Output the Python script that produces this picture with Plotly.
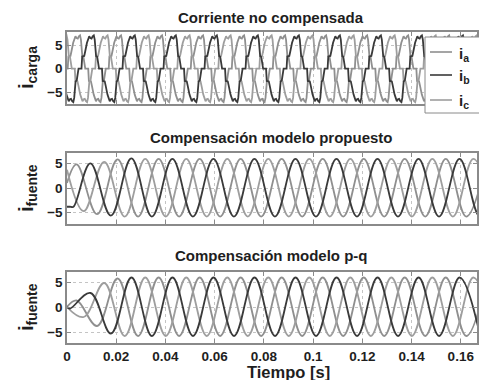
import plotly.graph_objects as go

# ---------------- data ----------------
PERIOD = 1 / 60          # s, 60 Hz supply
T_END = 0.1666           # s, right edge of the time axis

x_tick_vals = [0, 0.02, 0.04, 0.06, 0.08, 0.10, 0.12, 0.14, 0.16]
x_tick_text = ["0", "0.02", "0.04", "0.06", "0.08", "0.1", "0.12", "0.14", "0.16"]
y_tick_vals = [-5, 0, 5]
y_tick_text = ["\u22125", "0", "5"]

panel_titles = ["Corriente no compensada", "Compensación modelo propuesto", "Compensación modelo p-q"]
y_titles = ["i<sub>carga</sub>", "i<sub>fuente</sub>", "i<sub>fuente</sub>"]
x_title = "Tiempo [s]"
phase_names = ["i<sub>a</sub>", "i<sub>b</sub>", "i<sub>c</sub>"]
phase_colors = ["#8f8f8f", "#3a3a3a", "#9e9e9e"]

# centre of the first positive half-wave of each phase (s)
phase_first_peak = [0.0039, 0.0095, 0.0151]

# load current: positive half-wave of one period (electrical degrees, A); negative half mirrors it
load_half_deg = [0, 12, 18, 36, 44, 52, 60, 70, 80, 90, 100, 110, 120, 128, 134, 140, 150, 158, 166, 180]
load_half_val = [0, 0, 2.6, 2.7, 3.6, 4.8, 5.5, 6.2, 6.9, 6.5, 6.4, 6.9, 7.1, 6.2, 4.0, 2.7, 2.5, 1.0, 0, 0]

# source current, proposed model: initial samples (s, A), time of first extremum (s), successive extrema (A)
prop_start_t = [[0.0], [0.0, 0.0012, 0.0026], [0.0]]
prop_start_v = [[1.0], [-3.8, -3.8, -3.8], [3.7]]
prop_first_ext_t = [0.0039, 0.0095, 0.0068]
prop_ext = [
    [4.8, -5.3, 5.8, -5.8, 5.9, -5.8, 5.9, -5.8, 5.9, -5.8, 5.9, -5.8, 5.9, -5.8, 5.9, -5.8, 5.9, -5.8, 5.9, -5.8, 5.9],
    [5.0, -5.6, 6.0, -5.8, 5.9, -5.8, 5.9, -5.8, 5.9, -5.8, 5.9, -5.8, 5.9, -5.8, 5.9, -5.8, 5.9, -5.8, 5.9, -5.8, 5.9],
    [-4.7, 5.3, -5.8, 5.9, -5.8, 5.9, -5.8, 5.9, -5.8, 5.9, -5.8, 5.9, -5.8, 5.9, -5.8, 5.9, -5.8, 5.9, -5.8, 5.9, -5.8],
]

# source current, p-q model
pq_start_t = [[0.0], [0.0], [0.0]]
pq_start_v = [[0.0], [0.0], [0.0]]
pq_first_ext_t = [0.0039, 0.0012, 0.0068]
pq_ext = [
    [1.3, -3.8, 5.7, -5.8, 5.9, -5.8, 5.9, -5.8, 5.9, -5.8, 5.9, -5.8, 5.9, -5.8, 5.9, -5.8, 5.9, -5.8, 5.9, -5.8, 5.9],
    [-0.3, 2.8, -5.3, 5.9, -5.8, 5.9, -5.8, 5.9, -5.8, 5.9, -5.8, 5.9, -5.8, 5.9, -5.8, 5.9, -5.8, 5.9, -5.8, 5.9, -5.8],
    [-2.0, 4.8, -5.8, 5.9, -5.8, 5.9, -5.8, 5.9, -5.8, 5.9, -5.8, 5.9, -5.8, 5.9, -5.8, 5.9, -5.8, 5.9, -5.8, 5.9, -5.8],
]

# ---------------- build series ----------------
def load_wave(first_peak, n_cycles=13):
    t0 = first_peak - PERIOD / 4 - PERIOD
    ts, vs = [], []
    for k in range(n_cycles):
        for h, sign in enumerate((1, -1)):
            base = t0 + k * PERIOD + h * PERIOD / 2
            for d, v in zip(load_half_deg, load_half_val):
                ts.append(base + d / 360 * PERIOD)
                vs.append(sign * v)
    return ts, vs


def extrema_wave(start_t, start_v, first_t, ext):
    ts = list(start_t) + [first_t + k * PERIOD / 2 for k in range(len(ext))]
    vs = list(start_v) + list(ext)
    return ts, vs


FONT = "Liberation Sans"
TXT = "#1e1e1e"
LW = 1.8
fig = go.Figure()

draw_order = [0, 2, 1]
for i in draw_order:
    t, v = load_wave(phase_first_peak[i])
    fig.add_trace(go.Scatter(x=t, y=v, mode="lines", name=phase_names[i], showlegend=False,
                             line=dict(color=phase_colors[i], width=LW), xaxis="x", yaxis="y"))
for i in draw_order:
    t, v = extrema_wave(prop_start_t[i], prop_start_v[i], prop_first_ext_t[i], prop_ext[i])
    fig.add_trace(go.Scatter(x=t, y=v, mode="lines", name=phase_names[i], showlegend=False,
                             line=dict(color=phase_colors[i], width=LW, shape="spline", smoothing=1.1),
                             xaxis="x2", yaxis="y2"))
for i in draw_order:
    t, v = extrema_wave(pq_start_t[i], pq_start_v[i], pq_first_ext_t[i], pq_ext[i])
    fig.add_trace(go.Scatter(x=t, y=v, mode="lines", name=phase_names[i], showlegend=False,
                             line=dict(color=phase_colors[i], width=LW, shape="spline", smoothing=1.1),
                             xaxis="x3", yaxis="y3"))

W, H = 479, 380
L, R = 67, 2
PW = W - L - R


def px(xp):
    return (xp - L) / PW


def py(yp):
    return 1 - yp / H


domains = [[py(104), py(32)], [py(224), py(153)], [py(343), py(272)]]
y_ranges = [[-7.5, 7.8], [-7.3, 7.1], [-7.2, 7.0]]
title_y = [17, 137, 255]
ylab_y = [68, 188, 307]

tickfont = dict(family=FONT, size=13.5, color=TXT, weight="bold")
layout = dict(
    width=W, height=H,
    margin=dict(l=L, r=R, t=0, b=0, autoexpand=False),
    paper_bgcolor="white", plot_bgcolor="white",
    showlegend=False,
    annotations=[], shapes=[],
)
for i in range(3):
    sfx = "" if i == 0 else str(i + 1)
    layout["xaxis" + sfx] = dict(
        domain=[0, 1], anchor="y" + sfx, range=[0, T_END],
        tickmode="array", tickvals=x_tick_vals, ticktext=x_tick_text,
        showticklabels=(i == 2), ticks="inside", ticklen=4, tickcolor="#8a8a8a",
        showline=True, mirror="ticks", linecolor="#8a8a8a", linewidth=1.5,
        showgrid=True, gridcolor="#c4c4c4", griddash="dot", gridwidth=1,
        zeroline=False, tickfont=tickfont,
    )
    layout["yaxis" + sfx] = dict(
        domain=domains[i], anchor="x" + sfx, range=y_ranges[i],
        tickmode="array", tickvals=y_tick_vals, ticktext=y_tick_text,
        ticks="inside", ticklen=4, tickcolor="#8a8a8a",
        showline=True, mirror="ticks", linecolor="#8a8a8a", linewidth=1.5,
        showgrid=True, gridcolor="#c4c4c4", griddash="dot", gridwidth=1,
        zeroline=False, tickfont=tickfont,
    )
    layout["annotations"].append(dict(
        text=panel_titles[i], xref="paper", yref="paper", x=px(271), y=py(title_y[i]),
        xanchor="center", yanchor="middle", showarrow=False,
        font=dict(family=FONT, size=15, color=TXT, weight="bold")))
    layout["annotations"].append(dict(
        text=y_titles[i], xref="paper", yref="paper", x=px(27), y=py(ylab_y[i]),
        xanchor="center", yanchor="middle", showarrow=False, textangle=-90,
        font=dict(family=FONT, size=20, color=TXT, weight="bold")))

layout["annotations"].append(dict(
    text=x_title, xref="paper", yref="paper", x=px(288), y=py(372),
    xanchor="center", yanchor="middle", showarrow=False,
    font=dict(family=FONT, size=16.5, color=TXT, weight="bold")))

# legend box (top panel), partly cut by the right edge as in the reference
layout["shapes"].append(dict(type="rect", xref="paper", yref="paper",
                             x0=px(425), x1=px(490), y0=py(113), y1=py(37),
                             line=dict(color="#8a8a8a", width=1), fillcolor="white", layer="above"))
legend_y = [52, 75, 100]
for i in range(3):
    layout["shapes"].append(dict(type="line", xref="paper", yref="paper",
                                 x0=px(430), x1=px(452), y0=py(legend_y[i]), y1=py(legend_y[i]),
                                 line=dict(color=phase_colors[i], width=1.6), layer="above"))
    layout["annotations"].append(dict(
        text=phase_names[i], xref="paper", yref="paper", x=px(457), y=py(legend_y[i] + 2),
        xanchor="left", yanchor="middle", showarrow=False,
        font=dict(family=FONT, size=15, color=TXT, weight="bold")))

fig.update_layout(**layout)
fig.write_html("out.html", config={"displayModeBar": False},
               post_script="document.body.style.margin='0';")
